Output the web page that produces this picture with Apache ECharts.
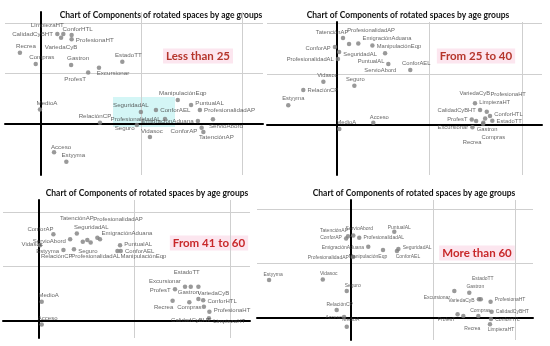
<!DOCTYPE html>
<html><head><meta charset="utf-8">
<script src="https://cdn.jsdelivr.net/npm/echarts@6/dist/echarts.min.js"></script>
<style>html,body{margin:0;padding:0;background:#fff}#c{width:550px;height:346px}</style>
</head><body><div id="c"></div>
<script>
// Component names (same order in every panel)
const components = ["LimpiezaHT","CalidadCyBHT","ConforHTL","ProfesionaHT","VariedaCyB","Recrea","Compras","Gastron","EstadoTT","Excursionar","ProfesT","MedioA","ManipulaciónEqp","PuntualAL","ProfesionalidadAP","ConforAEL","SeguridadAL","RelaciónCP","ProfesionalidadAL","EmigraciónAduana","Seguro","Vidasoc","ConforAP","ServioAbord","TatenciónAP","Acceso","Estyyma"];

const chartTitle = "Chart of Components of rotated spaces by age groups";
const groupNames = ["Less than 25","From 25 to 40","From 41 to 60","More than 60"];

// Panel 1: Less than 25
const lt25X = [0.089,0.065,0.122,0.122,0.080,-0.084,-0.021,0.120,0.324,0.231,0.188,-0.004,0.545,0.598,0.633,0.458,0.398,0.235,0.494,0.625,0.382,0.434,0.640,0.685,0.647,0.052,0.101];
const lt25Y = [0.357,0.357,0.353,0.336,0.342,0.283,0.238,0.234,0.247,0.223,0.204,0.058,0.095,0.075,0.056,0.056,0.048,0.005,0.020,0.012,-0.004,-0.052,-0.015,0.019,-0.032,-0.112,-0.150];
// Panel 2: From 25 to 40
const f25X = [0.597,0.619,0.662,0.641,0.648,0.632,0.633,0.602,0.672,0.586,0.583,0.010,0.153,0.208,0.052,0.317,0.009,-0.146,0.004,0.092,0.075,-0.059,-0.009,0.222,0.026,0.157,-0.211];
const f25Y = [0.085,0.059,0.035,0.026,0.052,0.004,0.009,0.016,0.017,-0.009,0.022,-0.016,0.312,0.281,0.318,0.216,0.286,0.137,0.259,0.320,0.154,0.170,0.306,0.239,0.341,0.009,0.078];
// Panel 3: From 41 to 60
const f41X = [0.711,0.690,0.687,0.713,0.667,0.559,0.629,0.667,0.635,0.611,0.569,0.011,0.328,0.339,0.255,0.342,0.202,0.183,0.216,0.244,0.146,0.004,0.060,0.130,0.158,0.011,0.102];
const f41Y = [0.011,0.053,0.077,0.034,0.081,0.075,0.069,0.126,0.126,0.126,0.117,0.071,0.258,0.279,0.301,0.258,0.298,0.292,0.289,0.306,0.264,0.279,0.319,0.301,0.322,-0.012,0.261];
// Panel 4: More than 60
const m60X = [0.678,0.686,0.683,0.681,0.624,0.548,0.621,0.577,0.633,0.504,0.520,-0.021,0.156,0.211,0.010,0.224,0.231,-0.070,0.040,0.084,-0.021,-0.138,-0.024,0.011,-0.015,-0.034,-0.400];
const m60Y = [-0.023,0.023,-0.004,0.060,0.069,0.007,0.007,0.093,0.069,0.099,0.014,-0.032,0.250,0.317,0.224,0.246,0.254,0.029,0.295,0.262,0.099,0.142,0.292,0.303,0.301,0.004,0.140];

// Reference grid lines
const gridX = [0.4, 0.8];
const gridY = [0.2, 0.4];

// ---- styling / layout (not data) ----
const labelPlacement = [
 [["top",-16,-1],["left",0,0],["top",6,2],["right",0,1],["bottom",0,2],["top",6,1],["top",6,1],["top",7,1],["top",6,1],["bottom",14,-2],["bottom",-13,-1],["top",7,1],["top",5,0],["right",0,-2],["right",0,0],["right",0,0],["top",-10,1],["top",-5,1],["left",0,0],["left",0,0],["left",2,3],["top",2,1],["left",0,4],["bottom",13,0],["bottom",13,-2],["top",7,2],["top",7,1]],
 [["right",0,-1],["left",0,0],["right",0,-2],["top",23,-17],["top",-12,-11],["bottom",-11,11],["bottom",10,7],["bottom",11,1],["right",0,1],["left",0,0],["left",0,0],["top",7,1],["right",0,1],["bottom",-14,1],["top",22,-6],["top",6,1],["right",0,2],["right",0,0],["left",0,0],["right",0,-5],["top",1,1],["top",4,1],["left",0,1],["bottom",-8,-1],["top",-11,2],["top",6,2],["top",5,1]],
 [["right",0,3],["bottom",-13,6],["right",0,1],["right",0,-2],["top",15,2],["bottom",-9,-1],["bottom",0,-2],["bottom",-10,-2],["top",-4,-7],["left",0,-5],["left",0,1],["top",7,1],["bottom",26,-2],["right",0,-1],["top",18,-13],["right",0,0],["top",4,-5],["bottom",-26,7],["bottom",5,7],["right",0,-4],["right",0,2],["left",7,-1],["top",-13,2],["left",0,2],["top",0,-8],["top",6,1],["left",0,1]],
 [["bottom",11,-1],["right",0,0],["right",0,1],["right",0,-2],["left",0,1],["bottom",9,6],["top",2,1],["top",6,1],["top",2,-14],["left",0,7],["bottom",-11,-1],["top",4,0],["bottom",-15,0],["top",5,3],["left",0,1],["bottom",11,-1],["right",0,-1],["top",3,1],["right",0,0],["left",0,1],["top",6,1],["top",6,1],["left",0,-1],["top",6,0],["top",-14,1],["left",2,1],["top",4,1]]
];
const panels = [
 {xs:lt25X, ys:lt25Y, left:5, top:12, width:258, height:163, xmin:-0.1434, xmax:0.8845, ymin:-0.2024, ymax:0.4444, fs:6.2, tx:161, ty:15, gx:198, gy:56, gc:'#b5362c'},
 {xs:f25X, ys:f25Y, left:267, top:22, width:275, height:153, xmin:-0.303, xmax:0.887, ymin:-0.196, ymax:0.404, fs:5.8, tx:408, ty:15, gx:476, gy:56, gc:'#b5362c'},
 {xs:f41X, ys:f41Y, left:3, top:200, width:247, height:138, xmin:-0.151, xmax:0.883, ymin:-0.062, ymax:0.445, fs:6, tx:147, ty:193, gx:209, gy:243, gc:'#c8282a'},
 {xs:m60X, ys:m60Y, left:257, top:200, width:276, height:140, xmin:-0.459, xmax:0.888, ymin:-0.081, ymax:0.434, fs:5, tx:414, ty:193, gx:477, gy:253, gc:'#c8282a'}
];

const grids=[], xAxes=[], yAxes=[], series=[], graphics=[];
// light cyan highlight artifact in panel 1
graphics.push({type:'rect', shape:{x:113,y:97,width:62,height:30}, style:{fill:'#d4f6f6'}, z:-1, silent:true});
panels.forEach((p,i)=>{
  grids.push({left:p.left, top:p.top, width:p.width, height:p.height, containLabel:false});
  const axisLine = {show:true, onZero:true, lineStyle:{color:'#000', width:2}};
  xAxes.push({gridIndex:i, type:'value', min:p.xmin, max:p.xmax, axisLine, axisTick:{show:false}, axisLabel:{show:false}, splitLine:{show:false}});
  yAxes.push({gridIndex:i, type:'value', min:p.ymin, max:p.ymax, axisLine, axisTick:{show:false}, axisLabel:{show:false}, splitLine:{show:false}});
  const data = components.map((n,k)=>{
    const lp = labelPlacement[i][k];
    return {name:n, value:[p.xs[k], p.ys[k]], label:{position:lp[0], offset:[lp[1],lp[2]]}};
  });
  const ml = [];
  gridX.forEach(v=>ml.push([{coord:[v,p.ymin]},{coord:[v,p.ymax]}]));
  gridY.forEach(v=>ml.push([{coord:[p.xmin,v]},{coord:[p.xmax,v]}]));
  series.push({type:'scatter', xAxisIndex:i, yAxisIndex:i, symbolSize:4.5, data,
    itemStyle:{color:'#7f7f7f'},
    label:{show:true, formatter:'{b}', distance:2, fontSize:p.fs, color:'#3d3d3d', fontFamily:'Liberation Sans'},
    markLine:{silent:true, symbol:'none', label:{show:false}, animation:false, z:0,
      lineStyle:{color:'#cfcfcf', width:1, type:'solid'}, data:ml},
    animation:false});
  graphics.push({type:'text', x:p.tx, y:p.ty, silent:true,
    style:{text:chartTitle, font:'bold 8.5px Lato', fill:'#111', align:'center', verticalAlign:'middle'}});
  graphics.push({type:'text', x:p.gx, y:p.gy, silent:true,
    style:{text:groupNames[i], font:'bold 11.5px Lato', fill:p.gc, align:'center', verticalAlign:'middle', backgroundColor:'#fce6ef', padding:[2,3,1,3]}});
});

const chart = echarts.init(document.getElementById('c'), null, {renderer:'canvas'});
chart.setOption({animation:false, backgroundColor:'#fff', grid:grids, xAxis:xAxes, yAxis:yAxes, series, graphic:graphics});
</script>
</body></html>
